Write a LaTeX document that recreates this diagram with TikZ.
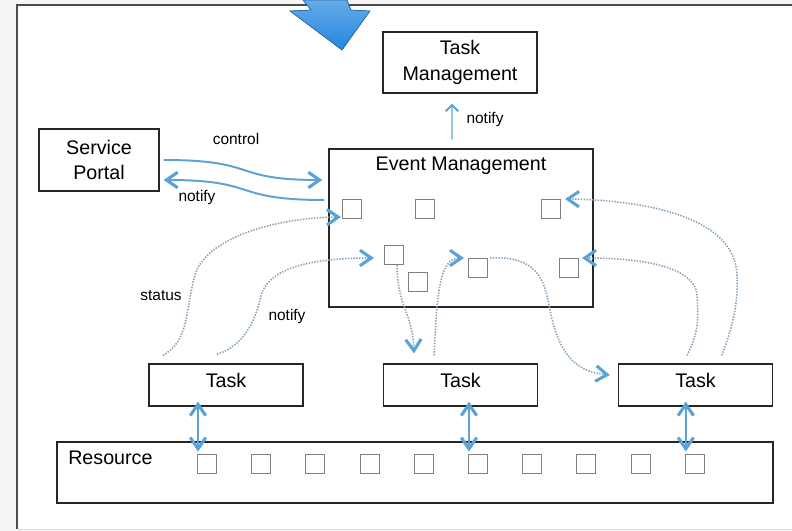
\documentclass[tikz,border=0pt]{standalone}
\usepackage{fontspec}
\setmainfont{Liberation Sans}
\usetikzlibrary{arrows.meta}

\definecolor{azul}{RGB}{91,163,214}
\definecolor{punto}{RGB}{130,160,186}
\definecolor{flechagrande}{RGB}{36,134,222}

\tikzset{
  caja/.style={draw=black!85, line width=0.9pt, inner sep=0pt, align=center, font=\fontsize{14}{18}\selectfont},
  casilla/.style={draw=gray, line width=0.8pt, minimum size=0.475cm, inner sep=0pt},
  etiqueta/.style={font=\fontsize{11}{13}\selectfont, inner sep=0pt},
  flecha/.style={azul, line width=1.4pt, ->},
  punteado/.style={punto, line width=1.1pt, dash pattern=on 1pt off 1pt, ->},
  doble/.style={azul, line width=1.5pt, <->}
}

\begin{document}
\begin{tikzpicture}[x=0.025cm, y=-0.025cm, >={Straight Barb[length=8pt,width=11pt,line width=2.2pt,color=azul]}]
\useasboundingbox (0,0) rectangle (792,531);

%Marco
\fill[gray!8] (0,0) rectangle (792,531);
\fill[white] (17,5) rectangle (792,529);
\draw[gray!30] (17,529) -- (792,529);
\draw[gray!60!black, line width=1.2pt] (17,529) -- (17,5) -- (792,5);

%Flecha grande
\filldraw[top color=flechagrande!70!white, bottom color=flechagrande, draw=flechagrande!80!black, line width=0.5pt] (303,0) -- (311,10) -- (290,11) -- (342,50) -- (370,11) -- (351,10) -- (347,0) -- cycle;

%Cajas
\node[caja, minimum width=3.85cm, minimum height=1.525cm] (tm) at (460,62.5) {Task\\Management};
\node[caja, minimum width=3cm, minimum height=1.55cm] (sp) at (99,160) {Service\\Portal};
\node[caja, minimum width=6.6cm, minimum height=3.95cm] (em) at (461,228) {};
\node[font=\fontsize{14}{18}\selectfont, inner sep=0pt] (emt) at (461,166) {Event Management};
\node[caja, minimum width=3.85cm, minimum height=1.05cm, text depth=7pt] (t1) at (226,385) {Task};
\node[caja, minimum width=3.85cm, minimum height=1.05cm, text depth=7pt] (t2) at (460.5,385) {Task};
\node[caja, minimum width=3.85cm, minimum height=1.05cm, text depth=7pt] (t3) at (695.5,385) {Task};
\node[caja, minimum width=17.9cm, minimum height=1.525cm] (res) at (415,472.5) {};
\node[font=\fontsize{14}{18}\selectfont, inner sep=0pt, anchor=west] (rest) at (68,458) {Resource};

%Casillas
\foreach \n/\x/\y in {e1/352/209, e2/425/209, e3/551/209, e4/394/255, e5/418/282, e6/478/268, e7/569/268}
  \node[casilla] (\n) at (\x,\y) {};
\foreach \i in {1,...,10}
  \node[casilla] (r\i) at ({207+54.2*(\i-1)},464) {};

%Flechas
\draw[flecha] ([xshift=0.1cm]sp.east) .. controls (260,160) and (230,180) .. ([xshift=-0.15cm,yshift=1.2cm]em.west);
\draw[flecha] ([xshift=-0.1cm,yshift=0.7cm]em.west) .. controls (230,200) and (260,180) .. ([xshift=0.1cm,yshift=-0.5cm]sp.east);
\draw[azul, line width=1pt, -{Straight Barb[length=4.5pt,width=9pt,line width=1.4pt]}] ([xshift=-0.225cm,yshift=0.225cm]em.north) -- ([xshift=-0.2cm,yshift=-0.25cm]tm.south);

\node[etiqueta] (lcontrol) at (236,139) {control};
\node[etiqueta] (lnotifya) at (197,198) {notify};
\node[etiqueta] (lnotifyb) at (485,120) {notify};
\node[etiqueta] (lstatus) at (161,296) {status};
\node[etiqueta] (lnotifyc) at (287,317) {notify};

%Punteados
\draw[punteado] ([xshift=-1.575cm,yshift=0.2cm]t1.north) .. controls (190,340) and (185,310) .. (195,275) .. controls (205,240) and (270,218) .. ([xshift=-0.025cm,yshift=-0.2cm]e1.west);
\draw[punteado] ([xshift=-0.225cm,yshift=0.225cm]t1.north) .. controls (245,345) and (255,320) .. (260,300) .. controls (265,265) and (320,258) .. ([xshift=-0.25cm,yshift=-0.075cm]e4.west);
\draw[punteado] ([xshift=0.075cm]e4.south) .. controls (398,310) and (412,310) .. ([xshift=-1.16cm,yshift=0.25cm]t2.north);
\draw[punteado] ([xshift=-0.66cm,yshift=0.2cm]t2.north) .. controls (437,290) and (440,258) .. ([xshift=-0.1cm,yshift=0.25cm]e6.west);
\draw[punteado] ([xshift=0.05cm,yshift=0.25cm]e6.east) .. controls (545,255) and (545,290) .. (550,310) .. controls (560,360) and (580,372) .. ([xshift=-0.2cm,yshift=0.25cm]t3.west);
\draw[punteado] ([xshift=-0.21cm,yshift=0.2cm]t3.north) .. controls (700,330) and (698,315) .. (697,295) .. controls (694,262) and (625,258) .. ([xshift=0.075cm,yshift=0.25cm]e7.east);
\draw[punteado] ([xshift=0.66cm,yshift=0.2cm]t3.north) .. controls (735,320) and (738,300) .. (737,275) .. controls (735,215) and (640,200) .. ([xshift=0.1cm,yshift=0.25cm]e3.east);

%Tareas - recursos
\foreach \t/\r in {t1/r1, t2/r6, t3/r10}
  \draw[doble] ([xshift=-0.225cm,yshift=0.125cm]\r.north |- \t.south) -- ([xshift=-0.225cm,yshift=0.06cm]\r.north);
\end{tikzpicture}
\end{document}
